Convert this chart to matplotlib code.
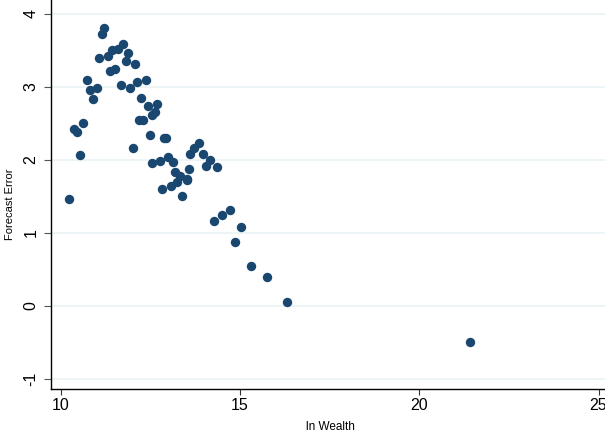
import matplotlib
matplotlib.use('Agg')
import matplotlib.pyplot as plt

plt.rcParams['font.family'] = ['Liberation Sans', 'DejaVu Sans']

# ln wealth vs forecast error
ln_wealth = [10.22, 10.53, 10.37, 10.46, 10.63, 10.73, 10.81, 11.01, 10.90,
             11.08, 11.16, 11.22, 11.31, 11.38, 11.44, 11.52, 11.59, 11.73,
             11.81, 11.87, 12.06, 11.67, 11.94, 12.13, 12.38, 12.24, 12.43,
             12.68, 12.29, 12.56, 12.63, 12.18, 12.49, 12.94, 12.01, 12.87,
             13.00, 12.56, 12.77, 13.19, 13.12, 13.32, 13.52, 13.58, 13.53,
             12.83, 13.07, 13.23, 13.38, 13.86, 13.72, 13.60, 13.98, 14.16,
             14.06, 14.36, 14.28, 14.51, 14.72, 15.04, 14.86, 15.30, 15.74,
             16.32, 21.41]
forecast_err = [1.46, 2.07, 2.43, 2.38, 2.51, 3.09, 2.96, 2.98, 2.83,
                3.39, 3.72, 3.80, 3.42, 3.22, 3.51, 3.25, 3.52, 3.59,
                3.35, 3.47, 3.31, 3.03, 2.98, 3.07, 3.09, 2.85, 2.74,
                2.77, 2.54, 2.62, 2.65, 2.55, 2.34, 2.30, 2.16, 2.30,
                2.04, 1.96, 1.98, 1.84, 1.97, 1.78, 1.74, 1.87, 1.73,
                1.60, 1.64, 1.70, 1.51, 2.23, 2.16, 2.08, 2.08, 2.00,
                1.92, 1.90, 1.16, 1.24, 1.32, 1.08, 0.87, 0.55, 0.40,
                0.06, -0.50]

xticks = [10, 15, 20, 25]
yticks = [-1, 0, 1, 2, 3, 4]

fig = plt.figure(figsize=(6.05, 4.32), dpi=100)
ax = fig.add_axes([50.7/605, 43/432, 554.3/605, 389/432])

ax.scatter(ln_wealth, forecast_err, s=46, color='#1a476f', linewidths=0, zorder=3)

ax.set_xlim(9.721, 25.18)
ax.set_ylim(-1.137, 4.19)
ax.set_xticks(xticks)
ax.set_yticks(yticks)
ax.set_xticklabels([str(t) for t in xticks], fontsize=11.5)
ax.set_yticklabels([str(t) for t in yticks], fontsize=11.5, rotation=90, va='center')
ax.tick_params(axis='x', length=4.2, width=0.8, color='#333333', pad=2.5)
ax.tick_params(axis='y', length=4.8, width=0.8, color='#555555', pad=4)

ax.grid(axis='y', color='#eaf2f3', linewidth=1.2, zorder=0)
ax.set_axisbelow(True)
for side in ['top', 'right']:
    ax.spines[side].set_visible(False)
for side in ['left', 'bottom']:
    ax.spines[side].set_color('black')
    ax.spines[side].set_linewidth(1.0)

ax.set_xlabel('ln Wealth', fontsize=8.5)
ax.set_ylabel('Forecast Error', fontsize=8)
ax.xaxis.set_label_coords((330 - 50.7) / 554.3, -32 / 389)
ax.yaxis.set_label_coords(-35.5 / 554.3, 0.476)

fig.savefig('out.png', dpi=100)
